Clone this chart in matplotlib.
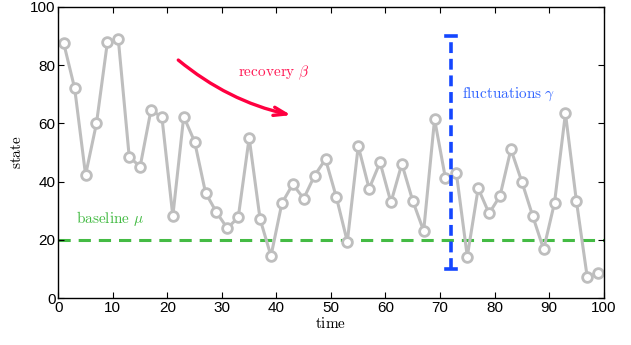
import matplotlib
matplotlib.use("Agg")
import matplotlib.pyplot as plt
import numpy as np

plt.rcParams['mathtext.fontset'] = 'cm'
plt.rcParams['font.family'] = ['Liberation Sans', 'DejaVu Sans']

# time series
time = np.arange(1, 100, 2)
state = [87.4, 72.0, 42.3, 60.0, 87.8, 88.9, 48.6, 45.1, 64.6, 62.1,
         28.2, 62.3, 53.7, 36.2, 29.5, 24.0, 27.8, 55.0, 27.2, 14.5,
         32.6, 39.1, 34.2, 42.1, 47.7, 34.6, 19.4, 52.2, 37.6, 46.6,
         32.9, 46.1, 33.4, 23.1, 61.4, 41.1, 42.9, 14.3, 37.7, 29.1,
         35.1, 51.1, 40.0, 28.2, 16.8, 32.8, 63.4, 33.5, 7.2, 8.8]

baseline = 20
fluct_t = 72
fluct_lo, fluct_hi = 10, 90

fig = plt.figure(figsize=(6.31, 3.45), dpi=100)
ax = fig.add_axes([0.0924, 0.1354, 0.8642, 0.8452])

ax.axhline(baseline, color='#44BB44', lw=2.2, ls=(0, (4, 2.6)), zorder=1)
ax.plot(time, state, '-o', color='#BEBEBE', lw=2.2, ms=7, mfc='white',
        mec='#BEBEBE', mew=2.0, zorder=2)

# fluctuation bar
ax.plot([fluct_t, fluct_t], [fluct_lo, fluct_hi], color='#1446FF', lw=2.6,
        ls=(0, (3, 1.6)), zorder=3)
for yy in (fluct_lo, fluct_hi):
    ax.plot([fluct_t - 0.9, fluct_t + 0.9], [yy, yy], color='#1446FF', lw=2.6, zorder=3)

ax.text(74, 70, r'$\mathrm{fluctuations}\ \gamma$', color='#3366FF', fontsize=11,
        va='center', ha='left')
ax.text(3.3, 27.5, r'$\mathrm{baseline}\ \mu$', color='#44BB44', fontsize=11,
        va='center', ha='left')
ax.text(33, 77.3, r'$\mathrm{recovery}\ \beta$', color='#FF1A55', fontsize=11,
        va='center', ha='left')

ax.annotate('', xy=(42.7, 62.8), xytext=(22.0, 81.7),
            arrowprops=dict(arrowstyle='->,head_length=0.9,head_width=0.3',
                            color='#FF0040', lw=2.4,
                            connectionstyle='arc3,rad=0.12', shrinkA=0, shrinkB=0))

ax.set_xlim(0, 100)
ax.set_ylim(0, 100)
ax.set_xticks(np.arange(0, 101, 10))
ax.set_yticks(np.arange(0, 101, 20))
ax.tick_params(direction='in', top=True, right=True, labelsize=11, length=4,
               width=0.8, pad=2)
for s in ax.spines.values():
    s.set_linewidth(1.0)

ax.set_xlabel(r'$\mathrm{time}$', fontsize=11, labelpad=1)
ax.set_ylabel(r'$\mathrm{state}$', fontsize=11, labelpad=4)

fig.savefig('out.png', dpi=100)
